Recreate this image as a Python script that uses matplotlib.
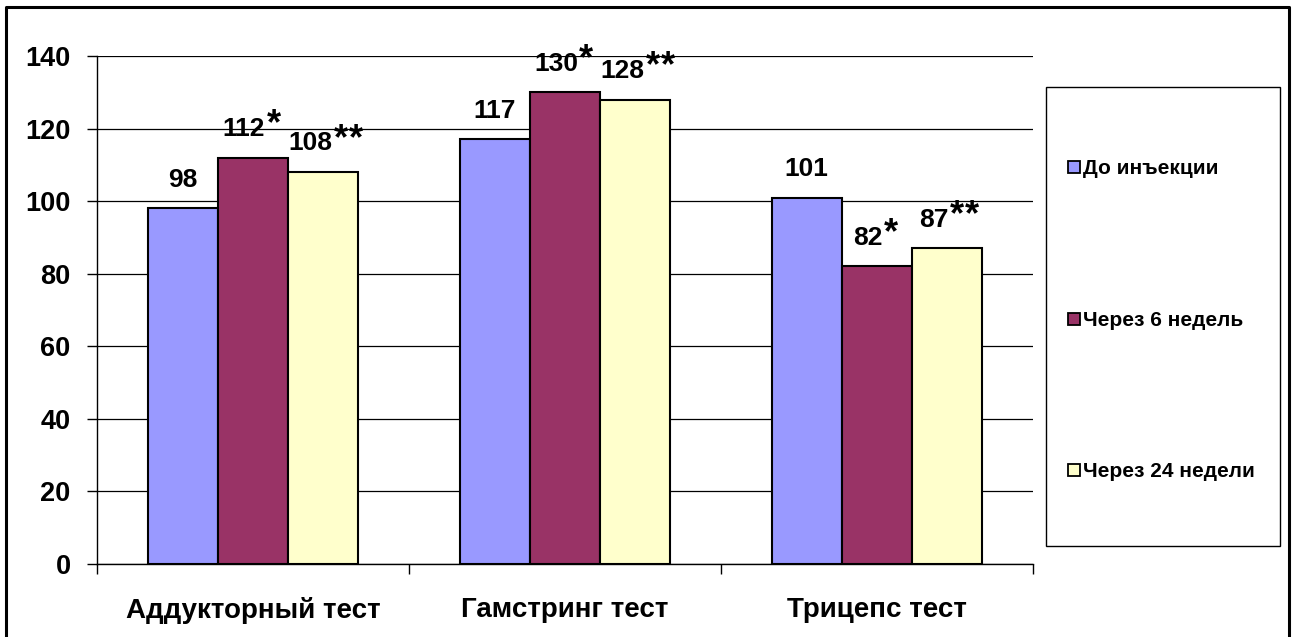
import numpy as np
import matplotlib.pyplot as plt
from matplotlib.patches import Rectangle
from matplotlib.lines import Line2D

plt.rcParams['font.family'] = ['Liberation Sans', 'DejaVu Sans']
plt.rcParams['font.weight'] = 'bold'

categories = ['Аддукторный тест', 'Гамстринг тест', 'Трицепс тест']
series_names = ['До инъекции', 'Через 6 недель', 'Через 24 недели']
before = [98, 117, 101]
week6 = [112, 130, 82]
week24 = [108, 128, 87]
marks = ['', '*', '**']
yticks = [0, 20, 40, 60, 80, 100, 120, 140]

colors = ['#9999FF', '#993366', '#FFFFCC']
# shift of the number (points) so that number + stars sit centred on the bar
shift = {'': 0, '*': -6.5, '**': -9.5}

fig = plt.figure(figsize=(12.92, 6.37), dpi=100)
ax = fig.add_axes([97/1292, 73/637, 936/1292, 508/637])

x = np.arange(len(categories))
w = 0.225
for i, (vals, name, col, mk) in enumerate(zip([before, week6, week24], series_names, colors, marks)):
    pos = x + (i - 1) * w
    ax.bar(pos, vals, w, color=col, edgecolor='black', linewidth=1.5, label=name, zorder=3)
    for px, v in zip(pos, vals):
        num = ax.annotate(str(v), (px, v), xytext=(shift[mk], 12), textcoords='offset points',
                          ha='center', va='bottom', fontsize=19, fontweight='bold')
        if mk:
            # each star drawn separately so they keep the wide spacing of the original
            for k in range(len(mk)):
                ax.annotate('*', xy=(1, 1), xycoords=num, xytext=(1 + 11 * k, 7),
                            textcoords='offset points', ha='left', va='top',
                            fontsize=26, fontweight='bold')

ax.set_xlim(-0.5, 2.5)
ax.set_ylim(0, 140)
ax.set_yticks(yticks)
ax.yaxis.grid(True, color='black', linewidth=0.9, zorder=0)
ax.set_axisbelow(True)
ax.set_xticks(x)
ax.set_xticklabels(categories, fontsize=20, fontweight='bold')
ax.set_xticks([-0.5, 0.5, 1.5, 2.5], minor=True)
ax.tick_params(axis='x', which='major', length=0, pad=24)
ax.tick_params(axis='x', which='minor', length=7, width=1, direction='out')
ax.tick_params(axis='y', length=7, width=1, direction='out', labelsize=19.5, pad=12)
for t in ax.get_yticklabels():
    t.set_fontweight('bold')
for s in ['top', 'right']:
    ax.spines[s].set_visible(False)
for s in ['left', 'bottom']:
    ax.spines[s].set_linewidth(1)

# legend frame and entries
fig.patches.append(Rectangle((1046/1292, 1 - 546/637), 234/1292, 459/637,
                             transform=fig.transFigure, fill=False, edgecolor='black', linewidth=1))
handles = [Line2D([], [], marker='s', linestyle='', markersize=8, markerfacecolor=c,
                  markeredgecolor='black', markeredgewidth=1.3) for c in colors]
fig.legend(handles, series_names, loc='upper left', bbox_to_anchor=(1058/1292, 1 - 149/637),
           frameon=False, fontsize=15, handlelength=0.55, handletextpad=0.15,
           labelspacing=6.36, borderpad=0)

# outer border
fig.add_artist(Line2D([6/1292, 6/1292, 1289/1292, 1289/1292], [-0.01, 1 - 7/637, 1 - 7/637, -0.01],
                      transform=fig.transFigure, color='black', linewidth=2.2))

fig.savefig('out.png', dpi=100)
